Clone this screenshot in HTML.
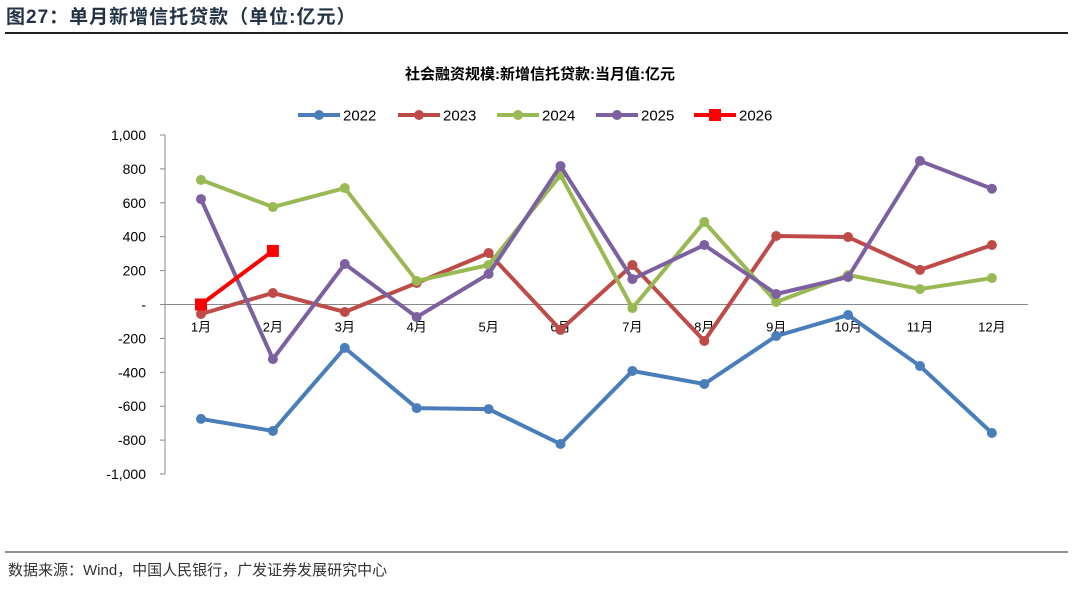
<!DOCTYPE html>
<html><head><meta charset="utf-8"><style>
body{margin:0;width:1080px;height:584px;background:#fff;overflow:hidden;font-family:"Liberation Sans","Noto Sans CJK SC",sans-serif}
</style></head><body>
<svg width="1080" height="584" xmlns="http://www.w3.org/2000/svg" id="chart">
<text x="6" y="23" font-size="19" font-weight="bold" fill="#243447" letter-spacing="1" font-family="Liberation Sans,Noto Sans CJK SC,sans-serif">图27：单月新增信托贷款（单位:亿元）</text>
<line x1="5" y1="33" x2="1068" y2="33" stroke="#222" stroke-width="2"/>
<text x="540" y="79" font-size="15" font-weight="bold" text-anchor="middle" fill="#000">社会融资规模:新增信托贷款:当月值:亿元</text>
<g id="legend"></g>
<g id="axes"></g>
<g id="series"></g>
<line x1="5" y1="552" x2="1068" y2="552" stroke="#222" stroke-width="1"/>
<text x="8" y="575" font-size="15" fill="#333">数据来源：Wind，中国人民银行，广发证券发展研究中心</text>
</svg>
<script>
const months=["1月","2月","3月","4月","5月","6月","7月","8月","9月","10月","11月","12月"];
const yTicks=[1000,800,600,400,200,0,-200,-400,-600,-800,-1000];
const yTickLabels=["1,000","800","600","400","200","-","-200","-400","-600","-800","-1,000"];
const seriesNames=["2022","2023","2024","2025","2026"];
const seriesColors=["#4a7ebb","#be4b48","#98b954","#7d60a0","#ff0000"];
const v2022=[-675,-746,-256,-611,-617,-823,-392,-469,-186,-62,-363,-758];
const v2023=[-56,68,-44,127,304,-150,233,-215,404,398,204,351];
const v2024=[735,575,687,139,233,764,-21,487,15,174,91,156];
const v2025=[622,-322,239,-74,180,817,150,351,62,162,847,683];
const v2026=[0,316];
const allSeries=[v2022,v2023,v2024,v2025,v2026];
const NS="http://www.w3.org/2000/svg";
function mk(t,a,p){const e=document.createElementNS(NS,t);for(const k in a)e.setAttribute(k,a[k]);p.appendChild(e);return e;}
const X=i=>201+i*71.9;
const Y=v=>304.5-v*0.1695;
const axes=document.getElementById('axes');
const yl=mk('line',{x1:165,y1:Y(1000),x2:165,y2:Y(-1000),stroke:'#888'},axes);


yTicks.forEach((t,i)=>{
 const tk=mk('line',{x1:160,y1:Y(t),x2:165,y2:Y(t),stroke:'#888'},axes);
 
 
 const tx=mk('text',{x:146,y:Y(t)+5,'font-size':14,'text-anchor':'end',fill:'#000'},axes);
 tx.textContent=yTickLabels[i];
 
 
});
const xl=mk('line',{x1:165,y1:Y(0),x2:1028,y2:Y(0),stroke:'#888'},axes);


months.forEach((m,i)=>{
 const tx=mk('text',{x:X(i),y:Y(0)+27,'font-size':13,'text-anchor':'middle',fill:'#000'},axes);
 tx.textContent=m;
 
 
});
const sg=document.getElementById('series');
allSeries.forEach((vals,s)=>{
 const g=mk('g',{},sg);
 
 
 const pts=vals.map((v,i)=>X(i)+','+Y(v)).join(' ');
 const pl=mk('polyline',{points:pts,fill:'none',stroke:seriesColors[s],'stroke-width':4,'stroke-linejoin':'round'},g);
 
 
 vals.forEach((v,i)=>{
  let p;
  if(s===4)p=mk('rect',{x:X(i)-6,y:Y(v)-6,width:12,height:12,fill:seriesColors[s]},g);
  else p=mk('circle',{cx:X(i),cy:Y(v),r:5,fill:seriesColors[s]},g);
  
  
 });
});
const lg=document.getElementById('legend');
const lx=[298,398,497,596,694];
seriesNames.forEach((n,s)=>{
 const g=mk('g',{},lg);
 
 
 const len=42;
 mk('line',{x1:lx[s],y1:115,x2:lx[s]+len,y2:115,stroke:seriesColors[s],'stroke-width':4},g);
 if(s===4)mk('rect',{x:lx[s]+len/2-6,y:109,width:12,height:12,fill:seriesColors[s]},g);
 else mk('circle',{cx:lx[s]+len/2,cy:115,r:5,fill:seriesColors[s]},g);
 const t=mk('text',{x:lx[s]+len+3,y:120.5,'font-size':15,fill:'#000'},g);
 t.textContent=n;
});
</script>
</body></html>
